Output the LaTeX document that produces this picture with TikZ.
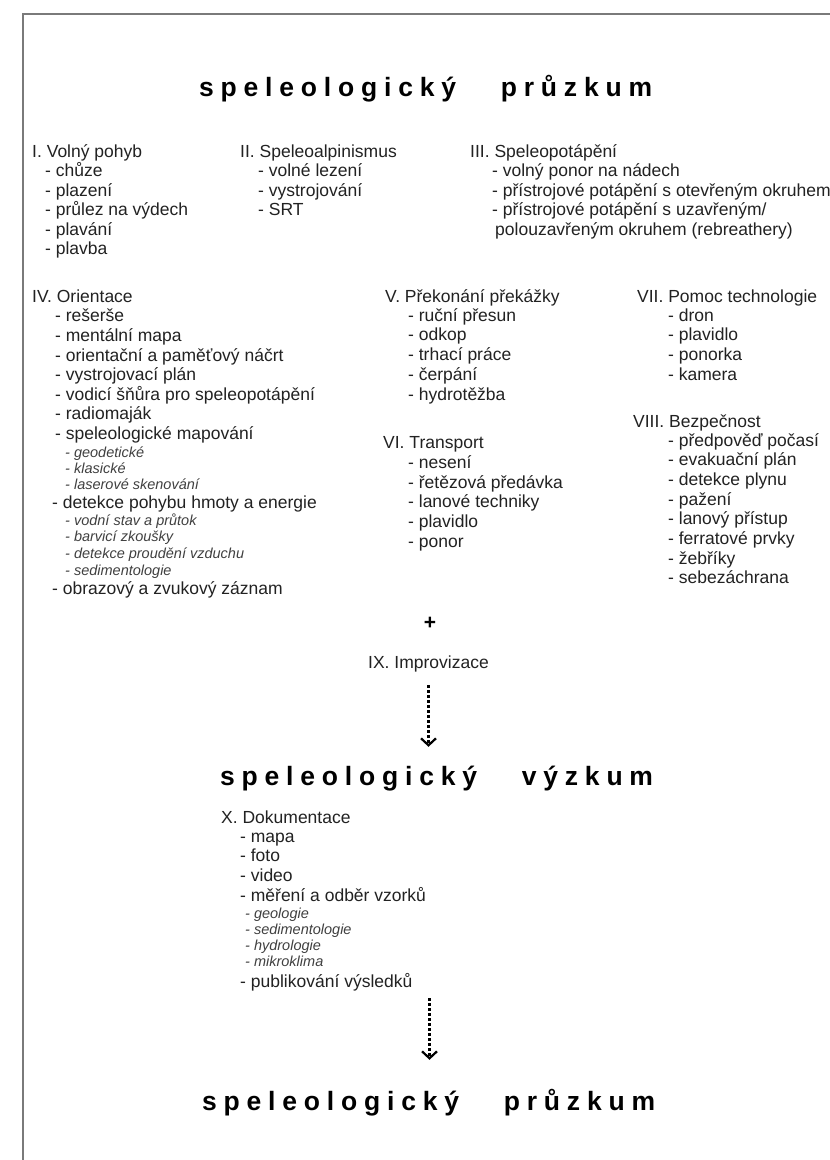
\documentclass[tikz,border=0pt]{standalone}
\usepackage{fontspec}
\setmainfont{Liberation Sans}
\usetikzlibrary{arrows.meta}
\definecolor{txt}{HTML}{222222}
\definecolor{subtxt}{HTML}{404040}
\definecolor{framec}{HTML}{7A7A7A}
\newcommand\bodyf{\fontsize{17.5}{19.5}\selectfont}
\newcommand\subf{\fontsize{14.5}{16.5}\selectfont\itshape}
\newcommand\titlef{\fontsize{26.5}{30}\selectfont\bfseries}
\def\sploop#1{\ifx#1\relax\else#1\hspace{6.8pt}\expandafter\sploop\fi}
\newcommand\spword[1]{\sploop#1\relax}
\newcommand\sptitle[2]{\spword{#1}\hspace{38pt}\spword{#2}\unskip}
\tikzset{
  ln/.style={anchor=base west, inner sep=0pt, font=\bodyf, text=txt},
  subln/.style={anchor=base west, inner sep=0pt, font=\subf, text=subtxt},
  ttl/.style={anchor=base west, inner sep=0pt, font=\titlef, text=black, text height=19pt},
  arr/.style={draw=black, line width=2.4pt, dash pattern=on 3pt off 2pt,
    -{Straight Barb[length=7pt,width=15pt,line width=2.2pt]}},
  framel/.style={draw=framec, line width=2pt}
}
\newcommand\lineat[4]{\node[ln] (#1) at (#2,#3) {#4};}
\newcommand\subat[4]{\node[subln] (#1) at (#2,#3) {#4};}
\begin{document}
\begin{tikzpicture}[x=1pt,y=-1pt]
\useasboundingbox (0,0) rectangle (830,1160);
\fill[white] (0,0) rectangle (830,1160);
\draw[framel] (22.5,1161) -- (22.5,14) -- (831,14);

% titles
\node[ttl] (t1) at (199,96) {\sptitle{speleologický}{průzkum}};

% I
\lineat{h1}{32}{157}{I. Volný pohyb}
\lineat{h1a}{45}{176.5}{- chůze}
\lineat{h1b}{45}{196}{- plazení}
\lineat{h1c}{45}{215.5}{- průlez na výdech}
\lineat{h1d}{45}{235}{- plavání}
\lineat{h1e}{45}{254.5}{- plavba}

% II
\lineat{h2}{240}{157}{II. Speleoalpinismus}
\lineat{h2a}{258}{176.5}{- volné lezení}
\lineat{h2b}{258}{196}{- vystrojování}
\lineat{h2c}{258}{215.5}{- SRT}

% III
\lineat{h3}{470}{157}{III. Speleopotápění}
\lineat{h3a}{492}{176.5}{- volný ponor na nádech}
\lineat{h3b}{492}{196}{- přístrojové potápění s otevřeným okruhem}
\lineat{h3c}{492}{215.5}{- přístrojové potápění s uzavřeným/}
\lineat{h3d}{495}{235}{polouzavřeným okruhem (rebreathery)}

% IV
\lineat{h4}{32}{302.5}{IV. Orientace}
\lineat{h4a}{55}{321.5}{- rešerše}
\lineat{h4b}{55}{341.5}{- mentální mapa}
\lineat{h4c}{55}{361.5}{- orientační a paměťový náčrt}
\lineat{h4d}{55}{380.5}{- vystrojovací plán}
\lineat{h4e}{55}{400.5}{- vodicí šňůra pro speleopotápění}
\lineat{h4f}{55}{419.5}{- radiomaják}
\lineat{h4g}{55}{439.5}{- speleologické mapování}
\subat{h4g1}{65}{457}{- geodetické}
\subat{h4g2}{65}{473.5}{- klasické}
\subat{h4g3}{65}{489}{- laserové skenování}
\lineat{h4h}{52}{508.5}{- detekce pohybu hmoty a energie}
\subat{h4h1}{65}{525}{- vodní stav a průtok}
\subat{h4h2}{65}{541.5}{- barvicí zkoušky}
\subat{h4h3}{65}{558.5}{- detekce proudění vzduchu}
\subat{h4h4}{65}{575}{- sedimentologie}
\lineat{h4i}{52}{594.5}{- obrazový a zvukový záznam}

% V
\lineat{h5}{385}{302.5}{V. Překonání překážky}
\lineat{h5a}{408}{321.5}{- ruční přesun}
\lineat{h5b}{408}{340.5}{- odkop}
\lineat{h5c}{408}{360.5}{- trhací práce}
\lineat{h5d}{408}{380.5}{- čerpání}
\lineat{h5e}{408}{400.5}{- hydrotěžba}

% VI
\lineat{h6}{383}{448.5}{VI. Transport}
\lineat{h6a}{408}{468}{- nesení}
\lineat{h6b}{408}{488}{- řetězová předávka}
\lineat{h6c}{408}{507.5}{- lanové techniky}
\lineat{h6d}{408}{527}{- plavidlo}
\lineat{h6e}{408}{547}{- ponor}

% VII
\lineat{h7}{637}{302.5}{VII. Pomoc technologie}
\lineat{h7a}{668}{321.5}{- dron}
\lineat{h7b}{668}{340.5}{- plavidlo}
\lineat{h7c}{668}{360.5}{- ponorka}
\lineat{h7d}{668}{380.5}{- kamera}

% VIII
\lineat{h8}{633}{427.5}{VIII. Bezpečnost}
\lineat{h8a}{668}{446.5}{- předpověď počasí}
\lineat{h8b}{668}{465.5}{- evakuační plán}
\lineat{h8c}{668}{485.5}{- detekce plynu}
\lineat{h8d}{668}{505.5}{- pažení}
\lineat{h8e}{668}{524.5}{- lanový přístup}
\lineat{h8f}{668}{544.5}{- ferratové prvky}
\lineat{h8g}{668}{564.5}{- žebříky}
\lineat{h8h}{668}{583.5}{- sebezáchrana}

% plus, IX
\node[font=\fontsize{21}{24}\selectfont\bfseries, text=black, inner sep=0pt] (plus) at (430,623) {+};
\node[ln, text depth=4pt] (ix) at (368,668) {IX. Improvizace};

\node[ttl] (t2) at (220,785) {\sptitle{speleologický}{výzkum}};
\draw[arr, shorten <=13pt, shorten >=19pt] (ix.south) -- (ix.south |- t2.north);

% X
\lineat{h10}{221}{823.5}{X. Dokumentace}
\lineat{h10a}{240}{842}{- mapa}
\lineat{h10b}{240}{861.5}{- foto}
\lineat{h10c}{240}{881}{- video}
\lineat{h10d}{240}{901}{- měření a odběr vzorků}
\subat{h10d1}{245}{918.5}{- geologie}
\subat{h10d2}{245}{934.5}{- sedimentologie}
\subat{h10d3}{245}{950.5}{- hydrologie}
\subat{h10d4}{245}{966.5}{- mikroklima}
\lineat{h10e}{240}{987.5}{- publikování výsledků}

\node[ttl] (t3) at (202,1110) {\sptitle{speleologický}{průzkum}};
\coordinate (a2) at (429.5,998);
\draw[arr, shorten >=31pt] (a2) -- (a2 |- t3.north);
\end{tikzpicture}
\end{document}
